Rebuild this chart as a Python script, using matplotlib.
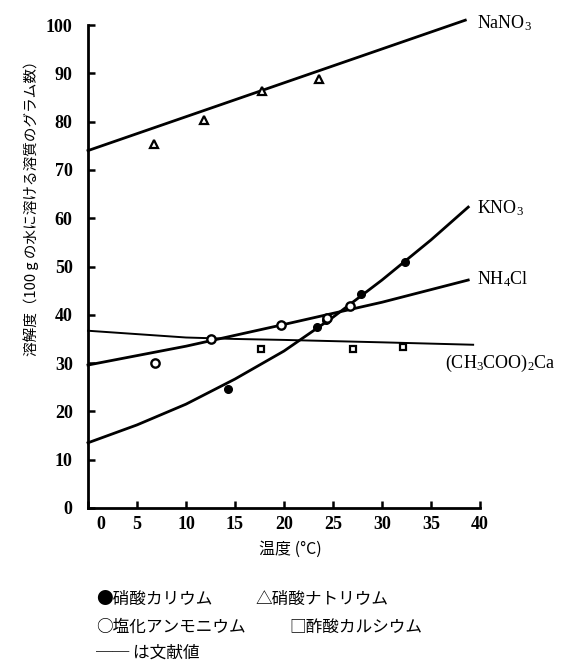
import matplotlib
matplotlib.use("Agg")
import matplotlib.pyplot as plt
import matplotlib.transforms as mtransforms

plt.rcParams['font.family'] = ['Liberation Serif', 'Noto Sans CJK JP']
plt.rcParams['mathtext.fontset'] = 'custom'
plt.rcParams['mathtext.rm'] = 'Liberation Serif'
plt.rcParams['mathtext.it'] = 'Liberation Serif'

# literature curves (lines)
nano3_x = [0, 38.5]
nano3_y = [74.0, 101.0]
kno3_x = [0, 5, 10, 15, 20, 25, 30, 35, 38.8]
kno3_y = [13.5, 17.2, 21.5, 26.7, 32.5, 39.5, 47.2, 55.5, 62.3]
nh4cl_x = [0, 10, 20, 30, 38.8]
nh4cl_y = [29.6, 33.5, 38.0, 42.6, 47.2]
caac_x = [0, 5, 10, 15, 20, 30, 39.3]
caac_y = [36.7, 36.0, 35.3, 35.0, 34.8, 34.3, 33.8]

# measured points
kno3_pt_x = [14.3, 23.4, 24.3, 27.9, 32.3]
kno3_pt_y = [24.6, 37.4, 39.0, 44.4, 50.9]
nano3_pt_x = [6.7, 11.8, 17.8, 23.6]
nano3_pt_y = [75.4, 80.3, 86.3, 88.8]
nh4cl_pt_x = [6.8, 12.6, 19.7, 24.4, 26.7]
nh4cl_pt_y = [30.0, 34.9, 37.9, 39.4, 41.8]
caac_pt_x = [17.7, 27.0, 32.1]
caac_pt_y = [32.9, 32.9, 33.4]

W, H = 574, 669
fig = plt.figure(figsize=(W / 100, H / 100), dpi=100)
ax = fig.add_axes([88 / W, 1 - 508 / H, 392 / W, 483 / H])

lw = 2.0
ax.plot(nano3_x, nano3_y, color='black', lw=lw, clip_on=False)
ax.plot(kno3_x, kno3_y, color='black', lw=lw, clip_on=False)
ax.plot(nh4cl_x, nh4cl_y, color='black', lw=lw, clip_on=False)
ax.plot(caac_x, caac_y, color='black', lw=1.4, clip_on=False)

ax.plot(kno3_pt_x, kno3_pt_y, 'o', ms=5.5, color='black', zorder=5)
ax.plot(nano3_pt_x, nano3_pt_y, '^', ms=5.5, mfc='white', mec='black', mew=1.6, zorder=5)
ax.plot(nh4cl_pt_x, nh4cl_pt_y, 'o', ms=6, mfc='white', mec='black', mew=1.7, zorder=5)
ax.plot(caac_pt_x, caac_pt_y, 's', ms=4.5, mfc='white', mec='black', mew=1.6, zorder=5)

lab = dict(fontsize=13, va='center', ha='left', clip_on=False)
ax.text(39.7, 100.4, r'NaNO$_3$', **lab)
ax.text(39.7, 62.1, r'KNO$_3$', **lab)
ax.text(39.7, 47.4, r'NH$_4$Cl', **lab)
ax.text(36.4, 30.0, r'(CH$_3$COO)$_2$Ca', **lab)

ax.set_xlim(0, 40)
ax.set_ylim(0, 100)
ax.set_xticks(range(0, 41, 5))
ax.set_yticks(range(0, 101, 10))
ax.spines['top'].set_visible(False)
ax.spines['right'].set_visible(False)
ax.spines['left'].set_linewidth(2.0)
ax.spines['bottom'].set_linewidth(2.0)
ax.tick_params(axis='y', direction='in', length=5, width=1.8, pad=11, labelsize=13)
ax.tick_params(axis='x', direction='in', length=5, width=1.8, pad=6, labelsize=13)
for t in ax.get_xticklabels() + ax.get_yticklabels():
    t.set_fontweight('bold')

# the "0" of the x axis sits a bit right of the spine
xlab0 = ax.get_xticklabels()[0]
xlab0.set_transform(xlab0.get_transform() + mtransforms.ScaledTranslation(9 / 72, 0, fig.dpi_scale_trans))

jp = ['Noto Sans CJK JP', 'DejaVu Sans']
fig.text(31 / W, 1 - 205 / H, '溶解度（100 g の水に溶ける溶質のグラム数）', rotation=90,
         ha='center', va='center', fontsize=10.5, family=jp)
fig.text(290 / W, 1 - 549 / H, '温度 (°C)', ha='center', va='center', fontsize=11.5, family=jp)

fig.text(96 / W, 1 - 599 / H, '●硝酸カリウム', ha='left', va='center', fontsize=12, family=jp)
fig.text(256 / W, 1 - 599 / H, '△硝酸ナトリウム', ha='left', va='center', fontsize=12, family=jp)
fig.text(96 / W, 1 - 627 / H, '○塩化アンモニウム', ha='left', va='center', fontsize=12, family=jp)
fig.text(289 / W, 1 - 627 / H, '□酢酸カルシウム', ha='left', va='center', fontsize=12, family=jp)
fig.text(96 / W, 1 - 653 / H, '── は文献値', ha='left', va='center', fontsize=12, family=jp)

fig.savefig('out.png', dpi=100)
